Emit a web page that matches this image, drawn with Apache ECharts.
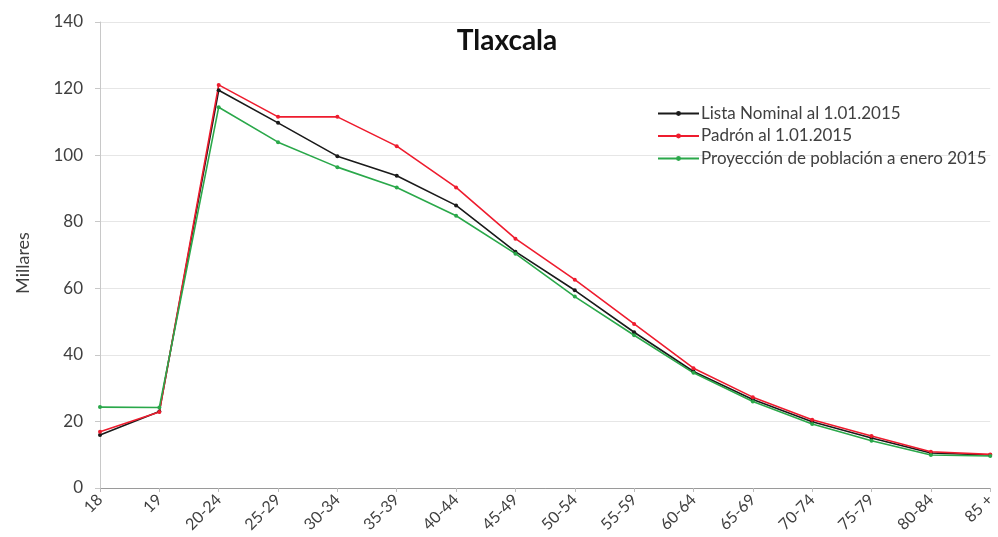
<!DOCTYPE html>
<html><head><meta charset="utf-8">
<script src="https://cdn.jsdelivr.net/npm/echarts@6/dist/echarts.min.js"></script>
<style>html,body{margin:0;padding:0;background:#fff}#c{width:998px;height:537px}</style>
</head><body><div id="c"></div>
<script>
const categories = ['18','19','20-24','25-29','30-34','35-39','40-44','45-49','50-54','55-59','60-64','65-69','70-74','75-79','80-84','85 +'];
const yTicks = [0,20,40,60,80,100,120,140];
const listaNominal = [15.9,23.0,119.5,109.7,99.7,93.8,84.9,71.0,59.4,46.8,35.0,26.6,19.9,15.0,10.5,9.9];
const padron = [16.9,22.8,121.1,111.5,111.5,102.7,90.3,74.9,62.6,49.3,36.0,27.3,20.5,15.6,10.9,10.1];
const proyeccion = [24.3,24.2,114.4,103.9,96.4,90.3,81.8,70.4,57.5,45.9,34.6,26.0,19.2,14.2,9.9,9.6];
const seriesNames = ['Lista Nominal al 1.01.2015','Padrón al 1.01.2015','Proyección de población a enero 2015'];
const colors = ['#1a1a1a','#ee1c2e','#2aa84a'];
const font = 'Lato, "Open Sans", sans-serif';
const chart = echarts.init(document.getElementById('c'));
const mk = (name, data, color) => ({
  name, type:'line', data, color,
  symbol:'circle', symbolSize:4, showSymbol:true,
  lineStyle:{width:1.6, color},
  itemStyle:{color},
  animation:false
});
chart.setOption({
  animation:false,
  title:{text:'Tlaxcala', left:502, top:22, textAlign:'center',
    textStyle:{fontFamily:font, fontSize:28, fontWeight:'bold', color:'#111'}},
  legend:{orient:'vertical', left:652, top:100, itemWidth:41, itemHeight:6, itemGap:5.5,
    textStyle:{fontFamily:font, fontSize:17, color:'#404040', padding:[0,0,0,-3]},
    data:seriesNames},
  grid:{left:100, right:1, top:22, bottom:49},
  xAxis:{type:'category', data:categories, boundaryGap:false,
    axisLine:{lineStyle:{color:'#9a9a9a'}},
    axisTick:{show:true, alignWithLabel:true, length:4, lineStyle:{color:'#bbbbbb'}},
    axisLabel:{rotate:45, fontFamily:font, fontSize:16, color:'#404040', margin:9, interval:0}},
  yAxis:{type:'value', min:0, max:140, interval:20,
    name:'Millares', nameLocation:'middle', nameGap:68, nameRotate:90,
    nameTextStyle:{fontFamily:font, fontSize:18, color:'#404040', padding:[0,16,0,0]},
    axisLine:{show:true, lineStyle:{color:'#c8c8c8'}},
    axisTick:{show:true, length:5, lineStyle:{color:'#c8c8c8'}},
    axisLabel:{fontFamily:font, fontSize:17, color:'#404040', margin:17,
      formatter:v=>yTicks.includes(v)?String(v):''},
    splitLine:{lineStyle:{color:'#e6e6e6'}}},
  series:[mk(seriesNames[0],listaNominal,colors[0]), mk(seriesNames[1],padron,colors[1]), mk(seriesNames[2],proyeccion,colors[2])]
});
</script></body></html>
